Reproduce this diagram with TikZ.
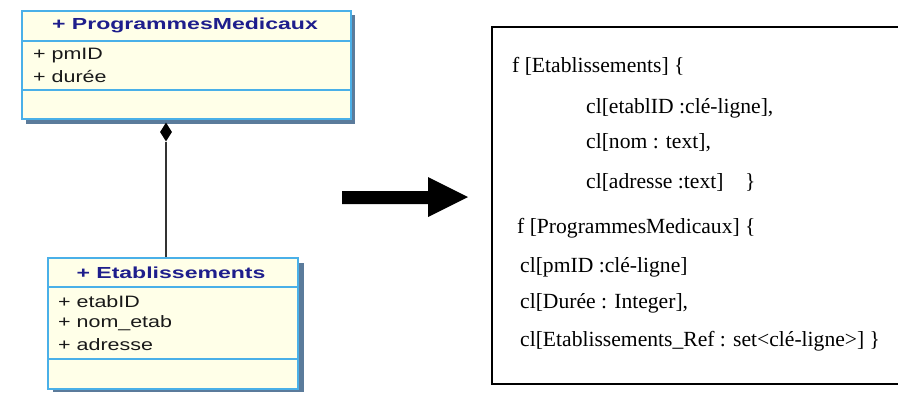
\documentclass[tikz,border=0pt]{standalone}
\usepackage{fontspec}
\setmainfont{Liberation Serif}
\newfontfamily\umlfont{Liberation Sans}
\usetikzlibrary{shapes.geometric}
\definecolor{umlfill}{HTML}{FFFFE8}
\definecolor{umlborder}{HTML}{4AB0E8}
\definecolor{umlshadow}{HTML}{5B7B9B}
\definecolor{umltitle}{HTML}{1E1E8C}
\tikzset{
  classbox/.style={draw=umlborder, line width=1.5pt, fill=umlfill, rectangle, inner sep=0pt, anchor=north west},
  classshadow/.style={fill=umlshadow, draw=none},
  sep/.style={draw=umlborder, line width=1.2pt},
  umltitle/.style={font=\umlfont\bfseries\fontsize{16}{18}\selectfont, text=umltitle, inner sep=0pt},
  umlattr/.style={font=\umlfont\fontsize{16.5}{18}\selectfont, text=black!90, inner sep=0pt, anchor=west},
  codeline/.style={font=\fontsize{21.6}{24}\selectfont, inner sep=0pt, anchor=base west},
  compo/.style={diamond, fill=black, inner sep=0pt, minimum width=12pt, minimum height=19pt},
  link/.style={draw=black!80, line width=1.5pt}
}
\begin{document}
\begin{tikzpicture}[x=1pt,y=-1pt]
\useasboundingbox (0,0) rectangle (898,392);
% ---- top class ----
\fill[classshadow] (26,15) rectangle (355,124);
\node[classbox, minimum width=329pt, minimum height=108pt] (pm) at (21,10) {};
\draw[sep] (21,41) -- (350,41);
\draw[sep] (21,90) -- (350,90);
\node[umltitle] (pmt) at (185,25) {\scalebox{1.44}[1]{+ ProgrammesMedicaux}};
\node[umlattr] (pma1) at (33,56) {\scalebox{1.3}[1]{+ pmID}};
\node[umlattr] (pma2) at (33,77) {\scalebox{1.3}[1]{+ durée}};
% ---- bottom class ----
\fill[classshadow] (53,263) rectangle (304,392);
\node[classbox, minimum width=250pt, minimum height=131pt] (et) at (47,257) {};
\draw[sep] (47,287) -- (297,287);
\draw[sep] (47,359) -- (297,359);
\node[umltitle] (ett) at (171,273) {\scalebox{1.44}[1]{+ Etablissements}};
\node[umlattr] (eta1) at (58,302) {\scalebox{1.3}[1]{+ etabID}};
\node[umlattr] (eta2) at (58,323) {\scalebox{1.3}[1]{+ nom\_etab}};
\node[umlattr] (eta3) at (58,345) {\scalebox{1.3}[1]{+ adresse}};
% ---- composition ----
\node[compo] (dia) at (166,132) {};
\draw[link] (dia.south) -- (et.north -| dia.south);
% ---- big arrow ----
\fill[black] (342,191) -- (428,191) -- (428,177) -- (468,197) -- (428,217) -- (428,204) -- (342,204) -- cycle;
% ---- right box ----
\draw[line width=2pt] (898,27) -- (492,27) -- (492,384) -- (898,384);
\node[codeline] (l1) at (512,72) {f [Etablissements] \{};
\node[codeline] (l2) at (586,113) {cl[etablID :clé-ligne],};
\node[codeline] (l3) at (586,148) {cl[nom : text],};
\node[codeline] (l4) at (586,188) {cl[adresse :text]\quad\}};
\node[codeline] (l5) at (517,233) {f [ProgrammesMedicaux] \{};
\node[codeline] (l6) at (520,272) {cl[pmID :clé-ligne]};
\node[codeline] (l7) at (520,308) {cl[Durée : Integer],};
\node[codeline] (l8) at (520,346) {cl[Etablissements\_Ref : set<clé-ligne>] \}};
\end{tikzpicture}
\end{document}
